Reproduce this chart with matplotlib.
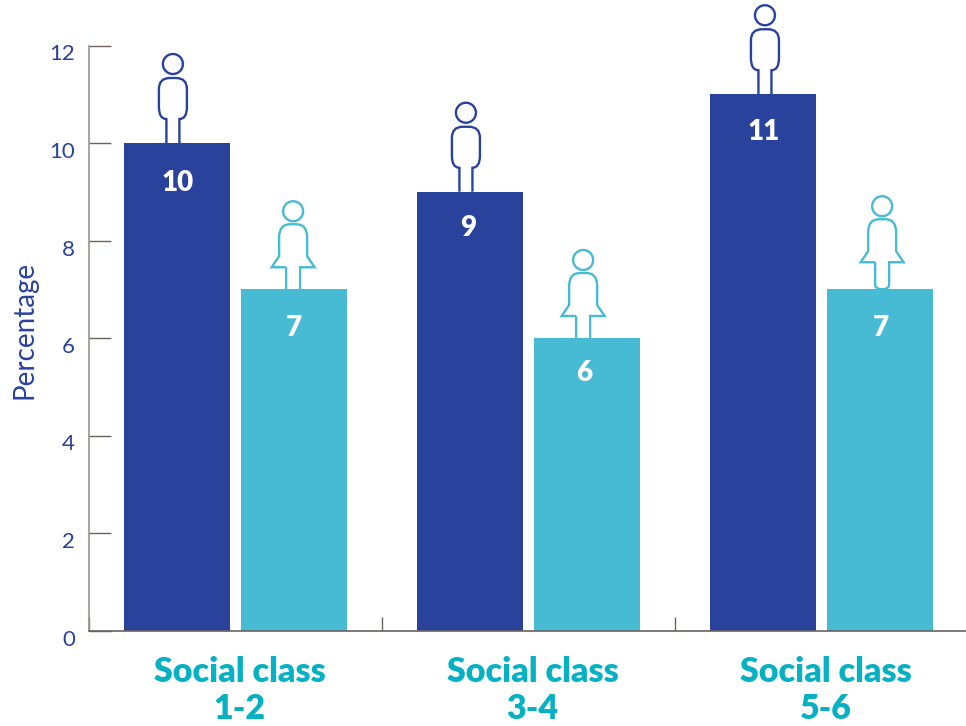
import matplotlib
matplotlib.use("Agg")
import matplotlib.pyplot as plt
from matplotlib.patches import Circle, PathPatch
from matplotlib.path import Path
from matplotlib.transforms import ScaledTranslation, Affine2D
import numpy as np

plt.rcParams['font.family'] = ['Lato', 'DejaVu Sans']

categories = ["Social class\n1-2", "Social class\n3-4", "Social class\n5-6"]
men = [10, 9, 11]
women = [7, 6, 7]
yticks = [0, 2, 4, 6, 8, 10, 12]

# icon x shift (px) from the bar centre, the icons are not quite centred
men_shift = [-4, -4, 2]
women_shift = [-1, -4, 2]
women_lift = [0, 0, 5]
# same for the value labels
men_label = [(1, -40), (-2, -36), (1, -38)]
women_label = [(0, -39), (-3, -35), (1, -39)]

DARK = "#29429c"
LIGHT = "#47bad4"
TEAL = "#05b1c3"
AXIS = "#6b6360"
SPINE = "#9a9490"

W, H = 966, 726
bar_w = 0.362
off = 0.2
PX = 72 / 100


# outlines in pixels, origin = foot of the icon on the bar top
def man_path():
    verts = [(-6.5, 0), (-6.5, 24), (-14, 24), (-14, 36), (-14, 54), (-14, 65), (-3, 65), (3, 65), (14, 65), (14, 54),
             (14, 36), (14, 24), (6.5, 24), (6.5, 0)]
    codes = [Path.MOVETO, Path.LINETO, Path.CURVE3, Path.CURVE3, Path.LINETO, Path.CURVE3, Path.CURVE3, Path.LINETO,
             Path.CURVE3, Path.CURVE3, Path.LINETO, Path.CURVE3, Path.CURVE3, Path.LINETO]
    return Path(verts, codes)


def woman_path(lift=0):
    verts = [(-7, 22), (-21.5, 22), (-14, 33), (-14, 52), (-14, 65), (-3, 65), (3, 65), (14, 65), (14, 52),
             (14, 33), (21.5, 22), (7, 22)]
    codes = [Path.MOVETO, Path.LINETO, Path.LINETO, Path.LINETO, Path.CURVE3, Path.CURVE3, Path.LINETO,
             Path.CURVE3, Path.CURVE3, Path.LINETO, Path.LINETO, Path.LINETO]
    if lift:
        # a lifted figure has the stem closed with a round end just on the bar
        verts += [(7, 5 - lift), (7, -lift), (0, -lift), (-7, -lift), (-7, 5 - lift), (-7, 22)]
        codes += [Path.LINETO, Path.CURVE3, Path.CURVE3, Path.CURVE3, Path.CURVE3, Path.LINETO]
    else:
        verts += [(7, 0), (-7, 0), (-7, 22)]
        codes += [Path.LINETO, Path.MOVETO, Path.LINETO]
    return Path(verts, codes)


def add_icon(ax, x, y, path, head_y, color, dx=0, dy=0):
    px, py = ax.transData.transform((x, y))
    tr = Affine2D().translate(px + dx, py + dy)
    ax.add_patch(PathPatch(path, fc="none", ec=color, lw=1.7, transform=tr, clip_on=False, zorder=1))
    ax.add_patch(Circle((0, head_y), 10, fc="none", ec=color, lw=1.7, transform=tr, clip_on=False, zorder=1))


fig = plt.figure(figsize=(W / 100, H / 100), dpi=100)
ax = fig.add_axes([89 / W, 1 - 630.5 / H, (W - 89) / W, (630.5 - 45.5) / H])

x = np.arange(len(categories))
ax.bar(x - off, men, bar_w, color=DARK, zorder=2)
ax.bar(x + off, women, bar_w, color=LIGHT, zorder=2)

ax.set_xlim(-0.5, 2.493)
ax.set_ylim(0, 12)

for s in ["top", "right"]:
    ax.spines[s].set_visible(False)
ax.spines["left"].set_color(SPINE)
ax.spines["bottom"].set_color(AXIS)
ax.spines["left"].set_linewidth(1.2)
ax.spines["bottom"].set_linewidth(1.2)

ax.set_yticks(yticks)
ax.tick_params(axis="y", direction="in", length=22 * PX, width=1, color=AXIS, labelsize=16,
               labelcolor=DARK, pad=14 * PX)
down = ScaledTranslation(0, -7 / 100, fig.dpi_scale_trans)
for lab in ax.get_yticklabels():
    lab.set_transform(lab.get_transform() + down)
ax.set_xticks([-0.5, 0.5, 1.5])
ax.set_xticklabels([])
ax.tick_params(axis="x", direction="in", length=14 * PX, width=1, color=AXIS)
ax.set_ylabel("Percentage", fontsize=20, color=DARK, va="center")
ax.yaxis.set_label_coords((25 - 89) / (W - 89), (630.5 - 330) / 585)

for i, c in enumerate(categories):
    ax.annotate(c, (i, 0), xytext=(4 * PX, -18), textcoords="offset points", ha="center", va="top",
                fontsize=24.5, fontweight="heavy", color=TEAL, linespacing=1.2)

for i in x:
    ax.annotate(str(men[i]), (i - off, men[i]), xytext=(men_label[i][0] * PX, men_label[i][1] * PX),
                textcoords="offset points", ha="center", va="center", fontsize=20, fontweight="heavy",
                color="white", zorder=3)
    ax.annotate(str(women[i]), (i + off, women[i]), xytext=(women_label[i][0] * PX, women_label[i][1] * PX),
                textcoords="offset points", ha="center", va="center", fontsize=20, fontweight="heavy",
                color="white", zorder=3)
    add_icon(ax, i - off, men[i], man_path(), 79, DARK, dx=men_shift[i])
    add_icon(ax, i + off, women[i], woman_path(women_lift[i]), 78, LIGHT, dx=women_shift[i], dy=women_lift[i])

fig.savefig("out.png", dpi=100)
